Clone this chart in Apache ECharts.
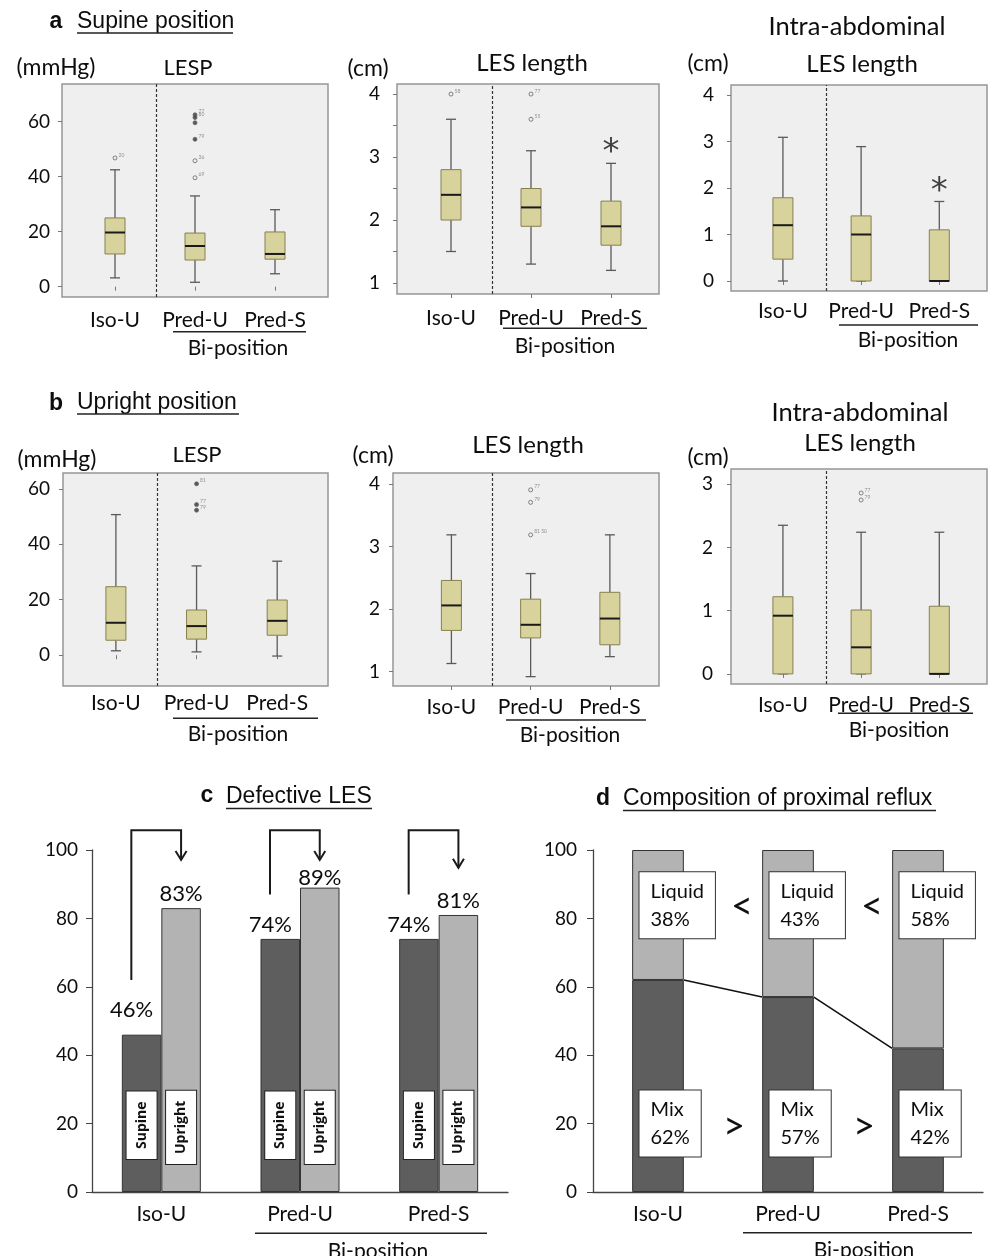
<!DOCTYPE html>
<html><head><meta charset="utf-8">
<script src="https://cdn.jsdelivr.net/npm/echarts@6/dist/echarts.min.js"></script>
<style>html,body{margin:0;padding:0;background:#fff}#c{width:990px;height:1256px}</style>
</head><body><div id="c"></div>
<script>
// ---------------- DATA ----------------
const boxCats = ['Iso-U', 'Pred-U', 'Pred-S'];
// each row: [min, Q1, median, Q3, max] for Iso-U, Pred-U, Pred-S
const aLespBox = [[3.2, 11.9, 19.7, 25.0, 42.5], [1.6, 9.7, 14.8, 19.5, 33.0], [4.7, 10.0, 11.9, 19.9, 28.0]];
const aLespOut = [[1, 46.8, '20', 'o'], [2, 62.5, '77', '*'], [2, 61.5, '80', '*'], [2, 59.6, '', '*'], [2, 53.6, '79', '*'], [2, 45.8, '36', 'o'], [2, 39.6, '69', 'o']];
const aLenBox = [[1.5, 2.0, 2.4, 2.8, 3.6], [1.3, 1.9, 2.2, 2.5, 3.1], [1.2, 1.6, 1.9, 2.3, 2.9]];
const aLenOut = [[1, 4.0, '58', 'o'], [2, 4.0, '77', 'o'], [2, 3.6, '55', 'o']];
const aAbdBox = [[0, 0.47, 1.2, 1.79, 3.09], [0, 0, 1.0, 1.4, 2.89], [0, 0, 0, 1.1, 1.71]];
const aAbdOut = [];
const bLespBox = [[1.6, 5.4, 11.7, 24.7, 50.7], [1.2, 5.8, 10.5, 16.3, 32.2], [-0.3, 7.2, 12.4, 19.9, 33.9]];
const bLespOut = [[2, 61.8, '81', '*'], [2, 54.3, '77', '*'], [2, 52.3, '79', '*']];
const bLenBox = [[1.13, 1.66, 2.06, 2.46, 3.19], [0.92, 1.54, 1.75, 2.16, 2.57], [1.24, 1.43, 1.85, 2.27, 3.19]];
const bLenOut = [[2, 3.91, '77', 'o'], [2, 3.71, '79', 'o'], [2, 3.19, '81 50', 'o']];
const bAbdBox = [[0, 0, 0.92, 1.22, 2.35], [0, 0, 0.42, 1.01, 2.24], [0, 0, 0, 1.07, 2.24]];
const bAbdOut = [[2, 2.86, '77', 'o'], [2, 2.75, '79', 'o']];
// significance marks [category, y]
const aLenStar = [[3, 3.15]];
const aAbdStar = [[3, 2.05]];

const defCats = ['Iso-U', 'Pred-U', 'Pred-S'];
const defSupine = [46, 74, 74];
const defUpright = [83, 89, 81];
// arrow: [category, start y, top y, end y]
const defArrows = [[0, 62, 105.8, 97.1], [1, 87, 105.8, 97.1], [2, 87, 105.8, 94.8]];

const compCats = ['Iso-U', 'Pred-U', 'Pred-S'];
const compMix = [62, 57, 42];
const compLiquid = [38, 43, 58];
const compSigns = ['<', '<', '>', '>'];
const compSignPos = [[0, 83.4], [1, 83.4], [0, 19.2], [1, 19.2]];

// ---------------- LAYOUT ----------------
const FONT = 'Lato';
const INK = '#0d0d0d';
const boxPanels = [
  {box: aLespBox, out: aLespOut, star: null, rect: [62, 84, 266, 213], x: [0.3375, 3.6625], y: [-3.75, 73.7], ticks: [0, 20, 40, 60], labels: [0, 20, 40, 60], dash: 1.525, xm: 13, ym: 12},
  {box: aLenBox, out: aLenOut, star: aLenStar, rect: [397, 84, 262, 210], x: [0.325, 3.6], y: [0.825, 4.16], ticks: [1, 1.5, 2, 2.5, 3, 3.5, 4], labels: [1, 2, 3, 4], dash: 1.51, xm: 14, ym: 17},
  {box: aAbdBox, out: aAbdOut, star: aAbdStar, rect: [731, 85, 256, 206], x: [0.336, 3.61], y: [-0.215, 4.215], ticks: [0, 1, 2, 3, 4], labels: [0, 1, 2, 3, 4], dash: 1.55, xm: 10, ym: 17},
  {box: bLespBox, out: bLespOut, star: null, rect: [63, 473, 265, 213], x: [0.344, 3.63], y: [-11.1, 65.7], ticks: [0, 20, 40, 60], labels: [0, 20, 40, 60], dash: 1.51, xm: 7, ym: 13},
  {box: bLenBox, out: bLenOut, star: null, rect: [393, 473, 266, 213], x: [0.263, 3.62], y: [0.77, 4.18], ticks: [1, 2, 3, 4], labels: [1, 2, 3, 4], dash: 1.52, xm: 11, ym: 13},
  {box: bAbdBox, out: bAbdOut, star: null, rect: [731, 469, 256, 215], x: [0.336, 3.61], y: [-0.16, 3.24], ticks: [0, 1, 2, 3], labels: [0, 1, 2, 3], dash: 1.56, xm: 11, ym: 18}
];

function renderBox(params, api) {
  const x = api.value(0);
  const p = [1, 2, 3, 4, 5].map(d => api.coord([x, api.value(d)]));
  const cx = p[0][0], hb = 10, hc = 5;
  const ws = {stroke: '#5a5a5a', lineWidth: 1.3};
  return {type: 'group', children: [
    {type: 'line', shape: {x1: cx, y1: p[4][1], x2: cx, y2: p[3][1]}, style: ws},
    {type: 'line', shape: {x1: cx, y1: p[1][1], x2: cx, y2: p[0][1]}, style: ws},
    {type: 'line', shape: {x1: cx - hc, y1: p[4][1], x2: cx + hc, y2: p[4][1]}, style: ws},
    {type: 'line', shape: {x1: cx - hc, y1: p[0][1], x2: cx + hc, y2: p[0][1]}, style: ws},
    {type: 'rect', shape: {x: cx - hb, y: p[3][1], width: 2 * hb, height: p[1][1] - p[3][1]}, style: {fill: '#d8d29d', stroke: '#85804f', lineWidth: 1}},
    {type: 'line', shape: {x1: cx - hb, y1: p[2][1], x2: cx + hb, y2: p[2][1]}, style: {stroke: '#1a1a1a', lineWidth: 2}}
  ]};
}

const grids = [], xAxes = [], yAxes = [], series = [];
boxPanels.forEach((P, k) => {
  grids.push({left: P.rect[0], top: P.rect[1], width: P.rect[2], height: P.rect[3], show: true,
    backgroundColor: '#efefef', borderColor: '#969696', borderWidth: 1.5});
  xAxes.push({type: 'value', gridIndex: k, min: P.x[0], max: P.x[1], splitLine: {show: false},
    axisLine: {show: false},
    axisTick: {show: true, customValues: [1, 2, 3], length: 4, lineStyle: {color: '#777'}},
    axisLabel: {customValues: [1, 2, 3], formatter: v => boxCats[Math.round(v) - 1], fontSize: 21,
      fontFamily: FONT, color: INK, margin: P.xm}});
  yAxes.push({type: 'value', gridIndex: k, min: P.y[0], max: P.y[1], splitLine: {show: false},
    axisLine: {show: false},
    axisTick: {show: true, customValues: P.ticks, length: 4, lineStyle: {color: '#777'}},
    axisLabel: {customValues: P.labels, fontSize: 19, fontFamily: FONT, color: INK, margin: P.ym}});
  series.push({type: 'scatter', xAxisIndex: k, yAxisIndex: k, data: P.out, symbolSize: 4, z: 4, silent: true,
    encode: {x: 0, y: 1},
    itemStyle: {color: p => p.data[3] === '*' ? '#333' : '#efefef', borderColor: '#666', borderWidth: 1},
    label: {show: true, position: 'right', distance: 1, offset: [0, -3], formatter: p => p.data[2], fontSize: 5, color: '#777', fontFamily: FONT},
    markLine: {silent: true, symbol: 'none', label: {show: false}, animation: false,
      lineStyle: {type: [3, 2], color: '#333', width: 1.2}, data: [{xAxis: P.dash}]}});
  series.push({type: 'custom', xAxisIndex: k, yAxisIndex: k, renderItem: renderBox, silent: true, z: 3,
    encode: {x: 0, y: [1, 2, 3, 4, 5]}, data: P.box.map((b, i) => [i + 1].concat(b))});
  if (P.star) series.push({type: 'scatter', xAxisIndex: k, yAxisIndex: k, data: P.star, symbolSize: 1, silent: true,
    itemStyle: {color: 'transparent'},
    label: {show: true, position: 'inside', formatter: '*', fontSize: 34, color: '#111', fontFamily: 'DejaVu Sans', offset: [0, 6]}});
});

// ----- panel c -----
const gc = grids.length;
grids.push({left: 92, top: 850, width: 416, height: 342});
const xc = xAxes.length, yc = yAxes.length;
xAxes.push({type: 'category', gridIndex: gc, data: defCats, axisLine: {lineStyle: {color: '#444', width: 1.3}},
  axisTick: {length: 5, lineStyle: {color: '#444'}}, axisLabel: {fontSize: 21, fontFamily: FONT, color: INK, margin: 12}});
xAxes.push({type: 'category', gridIndex: gc, data: defCats, show: false});
yAxes.push({type: 'value', gridIndex: gc, min: 0, max: 100, interval: 20, splitLine: {show: false},
  axisLine: {show: true, lineStyle: {color: '#444', width: 1.3}}, axisTick: {show: true, length: 6, lineStyle: {color: '#444'}},
  axisLabel: {fontSize: 19, fontFamily: FONT, color: INK, margin: 14}});
const barBorder = {borderColor: '#333', borderWidth: 1};
const supLift = [-11, 0, 0], upLift = [0, 4, 0];
series.push({type: 'bar', name: 'Supine', xAxisIndex: xc, yAxisIndex: yc, barWidth: 39.5, barGap: 0, silent: true,
  itemStyle: Object.assign({color: '#5e5e5e'}, barBorder),
  data: defSupine.map((v, i) => ({value: v, label: {offset: [-10, supLift[i]]}})),
  label: {show: true, position: 'top', distance: 3, formatter: '{c}%', fontSize: 22, fontFamily: FONT, color: INK}});
series.push({type: 'bar', name: 'Upright', xAxisIndex: xc, yAxisIndex: yc, barWidth: 39.5, barGap: 0, silent: true,
  itemStyle: Object.assign({color: '#b3b3b3'}, barBorder),
  data: defUpright.map((v, i) => ({value: v, label: {offset: [0, upLift[i]]}})),
  label: {show: true, position: 'top', distance: 3, formatter: '{c}%', fontSize: 22, fontFamily: FONT, color: INK}});
const tagLabel = (txt, dist) => ({show: true, position: 'insideBottom', rotate: 90, align: 'left', verticalAlign: 'middle',
  distance: dist, formatter: txt, fontSize: 14, fontWeight: 'bold', fontFamily: 'Open Sans', color: '#111', lineHeight: 18,
  backgroundColor: '#fff', borderColor: '#222', borderWidth: 1, padding: [6, 10, 6, 10]});
series.push({type: 'bar', xAxisIndex: xc + 1, yAxisIndex: yc, barWidth: 39.5, barGap: 0, silent: true, z: 5,
  itemStyle: {color: 'transparent'}, data: defSupine, label: tagLabel('Supine', 33)});
series.push({type: 'bar', xAxisIndex: xc + 1, yAxisIndex: yc, barWidth: 39.5, barGap: 0, silent: true, z: 5,
  itemStyle: {color: 'transparent'}, data: defUpright, label: tagLabel('Upright', 28)});
series.push({type: 'custom', xAxisIndex: xc, yAxisIndex: yc, silent: true, z: 6, clip: false,
  encode: {x: 0, y: [1, 2, 3]}, data: defArrows,
  renderItem: (params, api) => {
    const cx = api.coord([api.value(0), 0])[0];
    const yS = api.coord([api.value(0), api.value(1)])[1];
    const yT = api.coord([api.value(0), api.value(2)])[1];
    const yE = api.coord([api.value(0), api.value(3)])[1];
    const xl = cx - 30, xr = cx + 19.75;
    const st = {stroke: '#1a1a1a', lineWidth: 2, fill: null};
    return {type: 'group', children: [
      {type: 'polyline', shape: {points: [[xl, yS], [xl, yT], [xr, yT], [xr, yE]]}, style: st},
      {type: 'polyline', shape: {points: [[xr - 5.5, yE - 9], [xr, yE], [xr + 5.5, yE - 9]]}, style: st}
    ]};
  }});

// ----- panel d -----
const gd = grids.length;
grids.push({left: 593, top: 850, width: 390, height: 342});
const xd = xAxes.length, yd = yAxes.length;
xAxes.push({type: 'category', gridIndex: gd, data: compCats, axisLine: {lineStyle: {color: '#444', width: 1.3}},
  axisTick: {length: 5, lineStyle: {color: '#444'}}, axisLabel: {fontSize: 21, fontFamily: FONT, color: INK, margin: 12}});
yAxes.push({type: 'value', gridIndex: gd, min: 0, max: 100, interval: 20, splitLine: {show: false},
  axisLine: {show: true, lineStyle: {color: '#444', width: 1.3}}, axisTick: {show: true, length: 6, lineStyle: {color: '#444'}},
  axisLabel: {fontSize: 19, fontFamily: FONT, color: INK, margin: 16}});
const dBarW = 51.7;
const boxLbl = {show: true, align: 'left', offset: [-18.5, 0], fontSize: 20, lineHeight: 28, fontFamily: FONT, color: INK,
  backgroundColor: '#fff', borderColor: '#333', borderWidth: 1, padding: [5, 11, 5, 11]};
series.push({type: 'bar', name: 'Mix', stack: 'comp', xAxisIndex: xd, yAxisIndex: yd, barWidth: dBarW, silent: true,
  itemStyle: Object.assign({color: '#5e5e5e'}, barBorder), data: compMix,
  label: Object.assign({}, boxLbl, {position: 'insideBottom', verticalAlign: 'bottom', distance: 35.6, formatter: p => 'Mix\n' + p.value + '%'})});
series.push({type: 'bar', name: 'Liquid', stack: 'comp', xAxisIndex: xd, yAxisIndex: yd, barWidth: dBarW, silent: true,
  itemStyle: Object.assign({color: '#b3b3b3'}, barBorder), data: compLiquid,
  label: Object.assign({}, boxLbl, {position: 'insideTop', verticalAlign: 'top', distance: 22.3, formatter: p => 'Liquid\n' + p.value + '%'})});
series.push({type: 'custom', xAxisIndex: xd, yAxisIndex: yd, silent: true, z: 6,
  encode: {x: 0, y: [1, 2]}, data: compMix.slice(0, -1).map((v, i) => [i, v, compMix[i + 1]]),
  renderItem: (params, api) => {
    const i = api.value(0);
    const p1 = api.coord([i, api.value(1)]), p2 = api.coord([i + 1, api.value(2)]);
    return {type: 'line', shape: {x1: p1[0] + dBarW / 2, y1: p1[1], x2: p2[0] - dBarW / 2, y2: p2[1]},
      style: {stroke: '#111', lineWidth: 1.6}};
  }});
series.push({type: 'custom', xAxisIndex: xd, yAxisIndex: yd, silent: true, z: 7,
  encode: {x: 0, y: 1}, data: compSignPos,
  renderItem: (params, api) => {
    const s = compSigns[params.dataIndex];
    const p = api.coord([api.value(0), api.value(1)]);
    const dx = s === '<' ? 84 : 76;
    return {type: 'text', x: p[0] + dx, y: p[1], style: {text: s, fontSize: 38, fontFamily: FONT, fill: '#111',
      align: 'center', verticalAlign: 'middle', textAlign: 'center', textVerticalAlign: 'middle'}};
  }});

// ---------------- ANNOTATIONS ----------------
function T(x, y, text, size, o) {
  return {type: 'text', x: x, y: y, silent: true, z: 10, style: Object.assign({text: text, fontSize: size, fontFamily: FONT, fill: INK,
    align: 'center', verticalAlign: 'middle', textAlign: 'center', textVerticalAlign: 'middle'}, o || {})};
}
function L(x1, x2, y, w) {
  return {type: 'line', silent: true, z: 10, shape: {x1: x1, y1: y, x2: x2, y2: y}, style: {stroke: '#222', lineWidth: w || 1.6}};
}
const AR = 'Liberation Sans';
const left = {align: 'left', textAlign: 'left'};
const graphics = [
  T(56, 22, 'a', 23, {fontFamily: AR, fontWeight: 'bold'}), T(77, 22, 'Supine position', 23, Object.assign({fontFamily: AR}, left)), L(77, 233, 33, 1.3),
  T(56, 404, 'b', 23, {fontFamily: AR, fontWeight: 'bold'}), T(77, 403, 'Upright position', 23, Object.assign({fontFamily: AR}, left)), L(77, 239, 414, 1.3),
  T(207, 796, 'c', 23, {fontFamily: AR, fontWeight: 'bold'}), T(226, 797, 'Defective LES', 23, Object.assign({fontFamily: AR}, left)), L(226, 372, 808.5, 1.3),
  T(603, 799, 'd', 23, {fontFamily: AR, fontWeight: 'bold'}), T(623, 799, 'Composition of proximal reflux', 23, Object.assign({fontFamily: AR}, left)), L(623, 936, 810.5, 1.3),
  T(56, 68, '(mmHg)', 23), T(188, 68, 'LESP', 22), T(368, 69, '(cm)', 23), T(532, 63, 'LES length', 24),
  T(857, 27, 'Intra-abdominal', 25.5), T(708, 64, '(cm)', 23), T(862, 64, 'LES length', 24),
  T(57, 460, '(mmHg)', 23), T(197, 455, 'LESP', 22), T(373, 456, '(cm)', 23), T(528, 445, 'LES length', 24),
  T(860, 413, 'Intra-abdominal', 25.5), T(860, 443, 'LES length', 24), T(708, 458, '(cm)', 23),
  L(173, 306, 331.7), T(238, 348.5, 'Bi-position', 21),
  L(503, 647, 328.3), T(565, 346.5, 'Bi-position', 21),
  L(839, 978, 325), T(908, 340.5, 'Bi-position', 21),
  L(173, 318, 718.3), T(238, 734.5, 'Bi-position', 21),
  L(506, 646, 720), T(570, 735.5, 'Bi-position', 21),
  L(838, 973, 713.3), T(899, 730.5, 'Bi-position', 21),
  L(255, 487, 1233.3), T(378, 1251, 'Bi-position', 21),
  L(743, 972, 1232.7), T(864, 1250, 'Bi-position', 21)
];

const chart = echarts.init(document.getElementById('c'), null, {renderer: 'canvas'});
chart.setOption({
  animation: false,
  backgroundColor: '#fff',
  textStyle: {fontFamily: FONT},
  grid: grids, xAxis: xAxes, yAxis: yAxes, series: series,
  graphic: graphics
});
</script></body></html>
